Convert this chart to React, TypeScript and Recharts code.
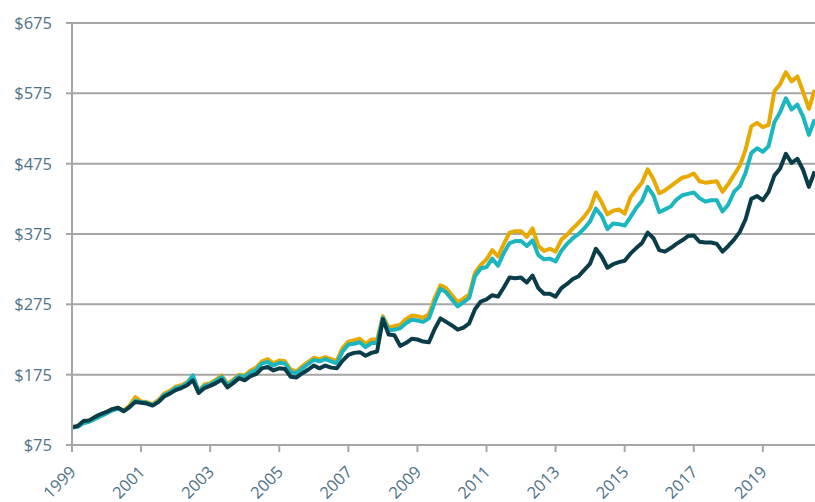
import React from 'react';
import { LineChart, Line, XAxis, YAxis, CartesianGrid } from 'recharts';

// Growth of $100, sampled every two months from January 1999
const START_YEAR = 1999;
const STEP_MONTHS = 2;

const darkSeries = [
  100, 102, 109, 110, 115, 119, 122, 126, 128, 123, 129, 136, 135, 134, 131, 136, 144, 148, 153, 156,
  160, 167, 149, 156, 159, 163, 168, 157, 163, 170, 167, 173, 176, 184, 186, 181, 184, 183, 172, 171,
  177, 182, 188, 184, 188, 185, 184, 195, 203, 206, 207, 202, 206, 208, 254, 232, 231, 216, 220, 226,
  225, 222, 221, 240, 255, 250, 245, 239, 242, 248, 268, 279, 282, 288, 286, 299, 313, 312, 313, 306,
  316, 298, 290, 290, 286, 298, 304, 311, 315, 324, 333, 354, 343, 327, 332, 335, 337, 347, 355, 362,
  377, 369, 352, 350, 355, 361, 366, 372, 373, 364, 363, 363, 361, 350, 358, 367, 378, 396, 425, 429,
  423, 435, 458, 468, 489, 476, 482, 466, 442, 464,
];

const tealSeries = [
  100, 101, 106, 108, 112, 116, 120, 124, 127, 123, 129, 138, 136, 135, 132, 137, 146, 150, 156, 158,
  163, 174, 151, 159, 161, 166, 172, 160, 166, 173, 172, 178, 182, 191, 193, 188, 192, 191, 179, 177,
  184, 190, 196, 194, 197, 194, 191, 208, 218, 219, 221, 214, 220, 220, 256, 238, 239, 241, 248, 253,
  252, 250, 255, 278, 297, 292, 282, 272, 278, 284, 315, 326, 328, 340, 330, 348, 362, 365, 365, 358,
  366, 345, 339, 340, 336, 351, 361, 369, 375, 383, 393, 411, 401, 382, 390, 389, 387, 399, 412, 422,
  442, 430, 406, 410, 414, 424, 430, 432, 434, 426, 421, 423, 423, 407, 417, 435, 443, 462, 490, 497,
  492, 500, 534, 548, 568, 552, 559, 542, 516, 538,
];

const goldSeries = [
  100, 102, 108, 110, 114, 118, 122, 126, 128, 124, 131, 143, 137, 136, 133, 139, 148, 152, 158, 160,
  164, 172, 152, 161, 163, 168, 174, 162, 168, 175, 174, 181, 185, 194, 197, 191, 195, 194, 182, 180,
  187, 193, 199, 197, 200, 197, 195, 213, 222, 224, 226, 219, 225, 225, 258, 242, 244, 246, 254, 259,
  258, 256, 261, 284, 302, 298, 288, 278, 283, 289, 320, 331, 339, 352, 343, 361, 377, 379, 379, 371,
  383, 358, 351, 354, 350, 367, 374, 383, 391, 400, 411, 434, 420, 403, 408, 410, 404, 427, 438, 448,
  467, 453, 433, 437, 443, 449, 455, 457, 461, 450, 448, 449, 450, 435, 446, 459, 472, 495, 528, 533,
  527, 530, 578, 588, 605, 592, 599, 577, 553, 580,
];

const yearTicks = [1999, 2001, 2003, 2005, 2007, 2009, 2011, 2013, 2015, 2017, 2019];
const valueTicks = [75, 175, 275, 375, 475, 575, 675];

const data = darkSeries.map((d, i) => ({
  t: START_YEAR + (i * STEP_MONTHS) / 12,
  dark: d,
  teal: tealSeries[i],
  gold: goldSeries[i],
}));

const TEXT = '#4F7388';
const GRID = '#A6A6A6';
const FONT = '"Open Sans", "Liberation Sans", sans-serif';
const FS = 16.5;

const XTick = (props: any) => {
  const { x, y, payload } = props;
  const px = x + 5;
  const py = y + 19;
  return (
    <text
      x={px}
      y={py}
      transform={`rotate(-45, ${px}, ${py})`}
      textAnchor="end"
      fill={TEXT}
      fontSize={FS}
      fontFamily={FONT}
    >
      {payload.value}
    </text>
  );
};

export default function App() {
  return (
    <div style={{ position: 'absolute', left: 0, top: 0, width: 815, height: 502, overflow: 'hidden', background: '#fff' }}>
      <LineChart width={815} height={502} data={data} margin={{ top: 23, right: 0, bottom: 0, left: 0 }}>
        <CartesianGrid vertical={false} stroke={GRID} strokeWidth={2} />
        <XAxis
          type="number"
          dataKey="t"
          domain={[1999, 2020.51]}
          ticks={yearTicks}
          interval={0}
          allowDataOverflow
          height={57}
          tickSize={7}
          tickMargin={2}
          axisLine={{ stroke: GRID, strokeWidth: 2 }}
          tickLine={{ stroke: GRID, strokeWidth: 2 }}
          tick={<XTick />}
        />
        <YAxis
          type="number"
          domain={[75, 675]}
          ticks={valueTicks}
          interval={0}
          width={72}
          tickSize={6}
          tickMargin={14}
          axisLine={{ stroke: GRID, strokeWidth: 2 }}
          tickLine={{ stroke: GRID, strokeWidth: 2 }}
          tickFormatter={(v: number) => `$${v}`}
          tick={{ fill: TEXT, fontSize: FS, fontFamily: FONT }}
        />
        <Line type="linear" dataKey="gold" stroke="#E8A900" strokeWidth={4} dot={false} isAnimationActive={false} strokeLinejoin="round" />
        <Line type="linear" dataKey="teal" stroke="#1BB6BF" strokeWidth={4} dot={false} isAnimationActive={false} strokeLinejoin="round" />
        <Line type="linear" dataKey="dark" stroke="#0A3C4A" strokeWidth={4} dot={false} isAnimationActive={false} strokeLinejoin="round" />
      </LineChart>
    </div>
  );
}
